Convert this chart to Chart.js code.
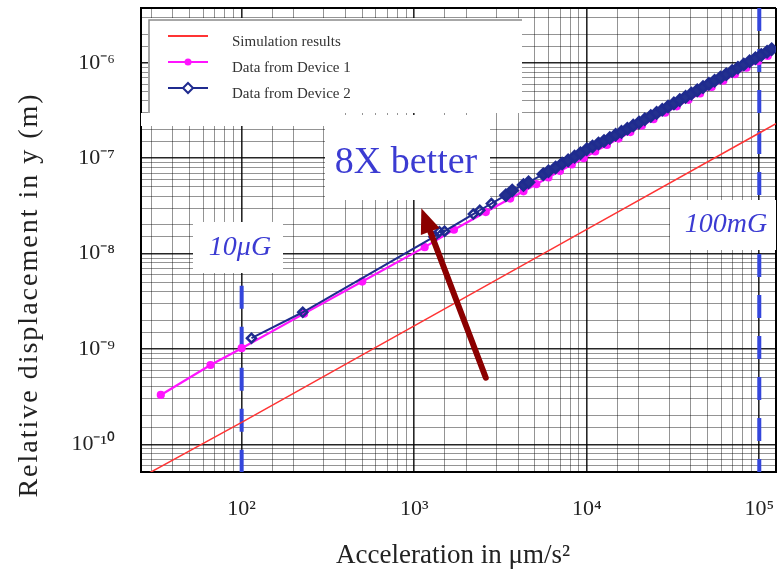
<!DOCTYPE html>
<html>
<head>
<meta charset="utf-8">
<script src="https://cdn.jsdelivr.net/npm/chart.js@4.4.1/dist/chart.umd.min.js"></script>
<style>
  html, body { margin: 0; padding: 0; background: #fff; }
  #wrap { width: 784px; height: 577px; }
</style>
</head>
<body>
<div id="wrap"><canvas id="myChart" width="784" height="577"></canvas></div>
<script>
// simulation results (red line)
var accelSim = [29, 100, 1000, 10000, 100000, 125000];
var dispSim = [5.0e-11, 1.7e-10, 1.75e-9, 1.8e-8, 1.84e-7, 2.3e-7];

// device 1 (magenta)
var accelDev1 = [34, 66, 100, 230, 500, 1150, 1700, 2600, 3600, 4300, 5100, 6000, 7000, 8200, 9600,
    11200, 13100, 15300, 17900, 20900, 24400, 28500, 33300, 38900, 45400, 53000, 61900, 72300, 84400, 98600, 112000];
var dispDev1 = [3.3e-10, 6.8e-10, 1.02e-9, 2.35e-9, 5.1e-9, 1.17e-8, 1.78e-8, 2.73e-8, 3.78e-8, 4.5e-8, 5.35e-8, 6.3e-8, 7.35e-8, 8.6e-8, 1.0e-7,
    1.18e-7, 1.38e-7, 1.61e-7, 1.88e-7, 2.2e-7, 2.57e-7, 3.0e-7, 3.5e-7, 4.1e-7, 4.78e-7, 5.6e-7, 6.5e-7, 7.6e-7, 8.9e-7, 1.04e-6, 1.18e-6];

// device 2 (navy)
var accelDev2 = [114, 226, 1300, 1400, 1500, 2200, 2400, 2800, 3400, 3700, 4300, 4600, 5600, 6000, 6600, 7200, 7800, 8500, 9200,
    10000, 10800, 11700, 12600, 13600, 14700, 15900, 17200, 18600, 20100, 21700, 23500, 25400, 27400, 29600, 32000, 34600,
    37400, 40400, 43700, 47200, 51000, 55100, 59600, 64400, 69600, 75200, 81300, 87900, 95000, 102700, 111000, 118000];
var dispDev2 = [1.30e-9, 2.43e-9, 1.5e-8, 1.7e-8, 1.72e-8, 2.6e-8, 2.85e-8, 3.35e-8, 4.1e-8, 4.6e-8, 5.25e-8, 5.6e-8, 6.8e-8, 7.3e-8, 8.0e-8, 8.8e-8, 9.5e-8, 1.04e-7, 1.13e-7,
    1.24e-7, 1.33e-7, 1.43e-7, 1.52e-7, 1.63e-7, 1.76e-7, 1.89e-7, 2.04e-7, 2.2e-7, 2.37e-7, 2.56e-7, 2.77e-7, 2.99e-7, 3.22e-7, 3.48e-7, 3.76e-7, 4.07e-7,
    4.4e-7, 4.76e-7, 5.15e-7, 5.57e-7, 6.02e-7, 6.5e-7, 7.03e-7, 7.6e-7, 8.2e-7, 8.87e-7, 9.6e-7, 1.04e-6, 1.12e-6, 1.21e-6, 1.31e-6, 1.39e-6];

var seriesNames = ['Simulation results', 'Data from Device 1', 'Data from Device 2'];

var xDecades = [2, 3, 4, 5];
var yDecades = [-10, -9, -8, -7, -6];
var xRange = [26.1, 125000];
var yRange = [5.14e-11, 3.76e-6];

// limit lines and the arrow, in data units
var limitLines = [100, 100000];
var limitTops = [4.6e-9, 3.76e-6];
var arrowTail = { x: 2600, y: 5.0e-10 };
var arrowHead = { x: 1100, y: 3.0e-8 };

var serif = 'Liberation Serif, Times New Roman, serif';
var supMap = { '-': '\u207B', '0': '\u2070', '1': '\u00B9', '2': '\u00B2', '3': '\u00B3', '4': '\u2074',
    '5': '\u2075', '6': '\u2076', '7': '\u2077', '8': '\u2078', '9': '\u2079' };

function sup(n) {
    return String(n).split('').map(function (c) { return supMap[c]; }).join('');
}
function decadeOf(v) {
    if (!v) return null;
    var l = Math.log10(v), e = Math.round(l);
    return Math.abs(l - e) < 1e-6 ? e : null;
}
function pairs(xs, ys) {
    return xs.map(function (x, i) { return { x: x, y: ys[i] }; });
}
function gridFor(maxVal) {
    return {
        drawTicks: false,
        color: function (c) {
            var v = c.tick ? c.tick.value : 0;
            if (decadeOf(v) !== null) return 'rgba(0,0,0,0.85)';
            if (Math.abs(v - maxVal) / maxVal < 1e-6) return '#000';
            return 'rgba(0,0,0,0.42)';
        },
        lineWidth: function (c) {
            var v = c.tick ? c.tick.value : 0;
            if (Math.abs(v - maxVal) / maxVal < 1e-6) return 2;
            return decadeOf(v) !== null ? 1.6 : 1;
        }
    };
}

var overlay = {
    id: 'overlay',
    beforeDatasetsDraw: function (chart) {
        var ctx = chart.ctx, a = chart.chartArea, xs = chart.scales.x, ys = chart.scales.y;
        ctx.save();
        ctx.beginPath();
        ctx.rect(a.left, a.top, a.right - a.left, a.bottom - a.top);
        ctx.clip();

        // dashed limit lines
        ctx.strokeStyle = '#3446dc';
        ctx.lineWidth = 4;
        ctx.setLineDash([23, 18]);
        limitLines.forEach(function (v, i) {
            var px = xs.getPixelForValue(v);
            ctx.beginPath();
            ctx.moveTo(px, ys.getPixelForValue(limitTops[i]));
            ctx.lineTo(px, a.bottom);
            ctx.stroke();
        });
        ctx.setLineDash([]);

        // white label boxes
        ctx.fillStyle = '#fff';
        ctx.fillRect(148, 18, 374, 95);
        ctx.fillRect(141, 113, 184, 13);
        ctx.fillRect(325, 115, 165, 85);
        ctx.fillRect(193, 222, 90, 51);
        ctx.fillRect(670, 200, 114, 50);

        ctx.strokeStyle = '#8a8a8a';
        ctx.lineWidth = 1.5;
        ctx.beginPath();
        ctx.moveTo(149, 113);
        ctx.lineTo(149, 20);
        ctx.lineTo(522, 20);
        ctx.stroke();

        ctx.fillStyle = '#3b3bd2';
        ctx.textAlign = 'center';
        ctx.textBaseline = 'middle';
        ctx.font = '38px ' + serif;
        ctx.fillText('8X better', 406, 163);
        ctx.font = 'italic 28px ' + serif;
        ctx.fillText('10\u03BCG', 240, 248);
        ctx.fillText('100mG', 726, 225);

        // legend
        var sets = chart.data.datasets;
        sets.forEach(function (ds, i) {
            var y = 36 + 26 * i;
            ctx.strokeStyle = ds.borderColor;
            ctx.lineWidth = 2;
            ctx.beginPath();
            ctx.moveTo(168, y);
            ctx.lineTo(208, y);
            ctx.stroke();
            if (i === 1) {
                ctx.fillStyle = ds.borderColor;
                ctx.beginPath();
                ctx.arc(188, y, 3.5, 0, Math.PI * 2);
                ctx.fill();
            } else if (i === 2) {
                ctx.fillStyle = '#fff';
                ctx.beginPath();
                ctx.moveTo(188, y - 5); ctx.lineTo(193, y); ctx.lineTo(188, y + 5); ctx.lineTo(183, y);
                ctx.closePath();
                ctx.fill();
                ctx.stroke();
            }
            ctx.fillStyle = '#333';
            ctx.textAlign = 'left';
            ctx.font = '15px ' + serif;
            ctx.fillText(ds.label, 232, y + 6);
        });
        ctx.restore();
    },
    afterDatasetsDraw: function (chart) {
        var ctx = chart.ctx, xs = chart.scales.x, ys = chart.scales.y;
        var x1 = xs.getPixelForValue(arrowTail.x), y1 = ys.getPixelForValue(arrowTail.y);
        var x2 = xs.getPixelForValue(arrowHead.x), y2 = ys.getPixelForValue(arrowHead.y);
        var ang = Math.atan2(y2 - y1, x2 - x1);
        var headLen = 25, headW = 10;
        var bx = x2 - headLen * Math.cos(ang), by = y2 - headLen * Math.sin(ang);
        ctx.save();
        ctx.strokeStyle = '#8b0000';
        ctx.fillStyle = '#8b0000';
        ctx.lineWidth = 6;
        ctx.lineCap = 'round';
        ctx.beginPath();
        ctx.moveTo(x1, y1);
        ctx.lineTo(bx, by);
        ctx.stroke();
        ctx.beginPath();
        ctx.moveTo(x2, y2);
        ctx.lineTo(bx + headW * Math.sin(ang), by - headW * Math.cos(ang));
        ctx.lineTo(bx - headW * Math.sin(ang), by + headW * Math.cos(ang));
        ctx.closePath();
        ctx.fill();
        ctx.restore();
    },
    afterDraw: function (chart) {
        var ctx = chart.ctx;
        ctx.save();
        ctx.fillStyle = '#222';
        ctx.textAlign = 'center';
        ctx.textBaseline = 'middle';
        ctx.font = '27px ' + serif;
        ctx.fillText('Acceleration in \u03BCm/s\u00B2', 453, 556);
        ctx.translate(30, 295);
        ctx.rotate(-Math.PI / 2);
        ctx.font = '28px ' + serif;
        ctx.letterSpacing = '2px';
        ctx.fillText('Relative displacement in y (m)', 0, 0);
        ctx.restore();
    }
};

function drawChart() {
    var ctx = document.getElementById('myChart').getContext('2d');
    new Chart(ctx, {
        type: 'scatter',
        data: {
            datasets: [{
                label: seriesNames[0],
                data: pairs(accelSim, dispSim),
                showLine: true,
                borderColor: '#ff3434',
                borderWidth: 1.5,
                pointRadius: 0,
                order: 3
            }, {
                label: seriesNames[1],
                data: pairs(accelDev1, dispDev1),
                showLine: true,
                borderColor: '#ff14ff',
                backgroundColor: '#ff14ff',
                borderWidth: 2.2,
                pointRadius: 3,
                pointStyle: 'circle',
                order: 2
            }, {
                label: seriesNames[2],
                data: pairs(accelDev2, dispDev2),
                showLine: true,
                borderColor: '#1f2b8f',
                pointBackgroundColor: function (c) {
                    var p = c.raw;
                    return (p && p.x >= 3000) ? '#23308f' : 'rgba(255,255,255,0)';
                },
                borderWidth: 2,
                pointRadius: function (c) {
                    var p = c.raw;
                    return (p && p.x >= 3000) ? 5.5 : 4.5;
                },
                pointBorderWidth: 2.5,
                pointStyle: 'rectRot',
                order: 1
            }]
        },
        options: {
            responsive: false,
            animation: false,
            devicePixelRatio: 1,
            layout: { padding: { top: 7, right: 0, bottom: 0, left: 0 } },
            plugins: { legend: { display: false }, tooltip: { enabled: false } },
            scales: {
                x: {
                    type: 'logarithmic',
                    min: xRange[0],
                    max: xRange[1],
                    border: { color: '#000', width: 2 },
                    grid: gridFor(xRange[1]),
                    ticks: {
                        autoSkip: false,
                        maxRotation: 0,
                        minRotation: 0,
                        padding: 24,
                        color: '#222',
                        font: { family: serif, size: 22 },
                        callback: function (v) {
                            var e = decadeOf(v);
                            return (e !== null && xDecades.indexOf(e) >= 0) ? '10' + sup(e) : '';
                        }
                    },
                    afterFit: function (s) { s.height = 105; s.paddingLeft = 0; s.paddingRight = 0; }
                },
                y: {
                    type: 'logarithmic',
                    min: yRange[0],
                    max: yRange[1],
                    border: { color: '#000', width: 2 },
                    grid: gridFor(yRange[1]),
                    ticks: {
                        autoSkip: false,
                        padding: 26,
                        color: '#222',
                        font: { family: serif, size: 22 },
                        callback: function (v) {
                            var e = decadeOf(v);
                            return (e !== null && yDecades.indexOf(e) >= 0) ? '10' + sup(e) : '';
                        }
                    },
                    afterFit: function (s) { s.width = 141; s.paddingTop = 0; s.paddingBottom = 0; }
                }
            }
        },
        plugins: [overlay]
    });
}
drawChart();
</script>
</body>
</html>
